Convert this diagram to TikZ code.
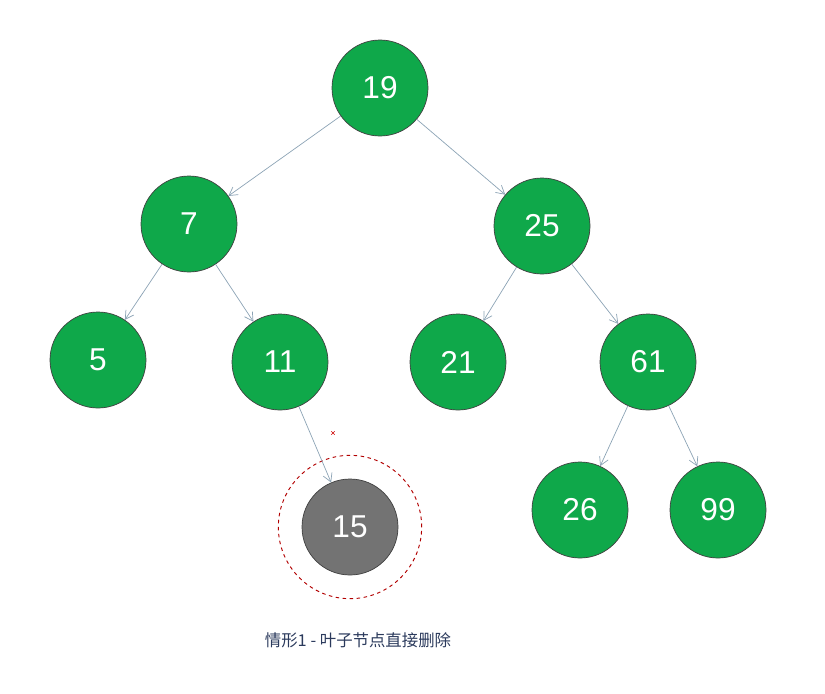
\documentclass[tikz,border=0pt]{standalone}
\usepackage{fontspec}
\setmainfont{Liberation Sans}
\newfontfamily\cjk{Noto Sans CJK SC}
\usetikzlibrary{arrows.meta}
\definecolor{ngreen}{HTML}{0FA84A}
\definecolor{edgec}{HTML}{8CA3B5}
\definecolor{capc}{HTML}{2B3A5C}
\begin{document}
\begin{tikzpicture}[x=0.03cm,y=-0.03cm,
  tn/.style={circle,draw=black!75,line width=0.6pt,fill=ngreen,minimum size=2.88cm,inner sep=0pt,text=white,font=\fontsize{27}{27}\selectfont},
  gn/.style={tn,fill=gray!90!black},
  ed/.style={draw=edgec,line width=0.6pt,-{Straight Barb[length=7pt,width=8pt]}}]
\useasboundingbox (0,0) rectangle (825,693);
\node[tn] (n19) at (380,88) {19};
\node[tn] (n7) at (189,224) {7};
\node[tn] (n25) at (542,226) {25};
\node[tn] (n5) at (98,360) {5};
\node[tn] (n11) at (280,362) {11};
\node[tn] (n21) at (458,362) {21};
\node[tn] (n61) at (648,362) {61};
\node[gn] (n15) at (350,527) {15};
\node[tn] (n26) at (580,510) {26};
\node[tn] (n99) at (718,510) {99};
\node[circle,draw=red!70!black,dashed,line width=0.8pt,minimum size=4.3cm] (ring) at (350,527) {};
\draw[ed] (n19) -- (n7);
\draw[ed] (n19) -- (n25);
\draw[ed] (n7) -- (n5);
\draw[ed] (n7) -- (n11);
\draw[ed] (n25) -- (n21);
\draw[ed] (n25) -- (n61);
\draw[ed] (n61) -- (n26);
\draw[ed] (n61) -- (n99);
\draw[ed] (n11) -- (n15);
\node (x) at (333,433) {\tikz{\draw[red!80!black,line width=4pt] (-0.22,-0.22)--(0.22,0.22) (-0.22,0.22)--(0.22,-0.22);}};
\node[text=capc,font=\cjk\fontsize{14}{14}\selectfont] (cap) at (358,640) {情形1 - 叶子节点直接删除};
\end{tikzpicture}
\end{document}
